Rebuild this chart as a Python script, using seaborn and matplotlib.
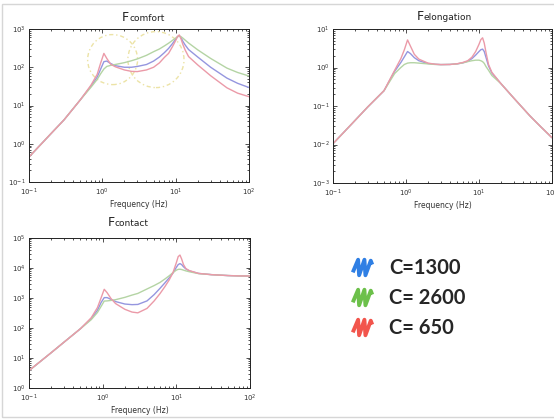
import pandas as pd
import seaborn as sns
import matplotlib.pyplot as plt
from matplotlib.patches import Ellipse, Rectangle
from matplotlib.lines import Line2D
from matplotlib.path import Path

sns.set_theme(style="ticks")
sns.set_style("ticks", {"xtick.direction": "in", "ytick.direction": "in",
                        "axes.edgecolor": "#222222"})
plt.rcParams["font.family"] = ["DejaVu Sans"]

# frequency grid (Hz)
freq = [0.1, 0.2, 0.3, 0.5, 0.7, 0.85, 0.95, 1.05, 1.15, 1.3, 1.5, 2, 2.5, 3, 4, 5,
        6, 7, 8, 9, 10, 10.6, 11.2, 11.8, 12.5, 13.5, 15, 20, 30, 50, 70, 100]

# damping values
c_labels = ["C=1300", "C= 2600", "C= 650"]

# F comfort
comfort_650 = [0.45, 1.85, 4.2, 14, 34, 65, 130, 230, 170, 120, 103, 85, 78, 77, 85, 100,
               130, 180, 230, 340, 500, 640, 700, 560, 400, 280, 190, 115, 60, 29, 21, 17]
comfort_1300 = [0.45, 1.85, 4.2, 14, 32, 55, 90, 140, 145, 125, 110, 100, 100, 105, 118, 145,
                185, 240, 310, 410, 540, 630, 670, 600, 480, 380, 290, 185, 100, 52, 38, 29.5]
comfort_2600 = [0.45, 1.85, 4.2, 14, 30, 48, 68, 90, 105, 112, 118, 132, 148, 165, 205, 255,
                300, 360, 425, 500, 580, 625, 650, 630, 580, 510, 430, 285, 170, 95, 73, 59]

# F elongation
elong_650 = [0.0105, 0.042, 0.095, 0.25, 0.85, 1.7, 2.9, 5.2, 3.6, 2.2, 1.65, 1.3, 1.22, 1.19,
             1.2, 1.25, 1.35, 1.5, 1.85, 2.6, 4.0, 5.3, 5.9, 4.3, 2.4, 1.2, 0.75, 0.38, 0.16,
             0.055, 0.029, 0.015]
elong_1300 = [0.0105, 0.042, 0.095, 0.25, 0.8, 1.35, 1.9, 2.6, 2.3, 1.8, 1.5, 1.27, 1.21, 1.19,
              1.2, 1.24, 1.32, 1.45, 1.7, 2.1, 2.6, 2.9, 3.0, 2.6, 1.8, 1.1, 0.72, 0.38, 0.16,
              0.055, 0.029, 0.015]
elong_2600 = [0.0105, 0.042, 0.095, 0.25, 0.7, 1.0, 1.2, 1.3, 1.33, 1.33, 1.3, 1.24, 1.2, 1.19,
              1.2, 1.24, 1.32, 1.42, 1.5, 1.55, 1.55, 1.5, 1.42, 1.28, 1.05, 0.85, 0.62, 0.38,
              0.16, 0.055, 0.029, 0.015]

# F contact
contact_650 = [3.8, 15, 34, 95, 220, 480, 1000, 1950, 1500, 950, 650, 420, 340, 320, 450, 800,
               1400, 2400, 4000, 7000, 15000, 24000, 27000, 20000, 13000, 9500, 8200, 6600,
               6000, 5600, 5450, 5400]
contact_1300 = [3.8, 15, 34, 95, 205, 390, 700, 1030, 1030, 900, 760, 630, 600, 610, 800, 1300,
                2100, 3200, 4700, 6800, 10500, 13000, 14000, 13000, 11000, 9300, 8000, 6600,
                6000, 5600, 5450, 5400]
contact_2600 = [3.8, 15, 34, 95, 190, 330, 520, 790, 800, 830, 880, 1050, 1250, 1420, 2000, 2600,
                3300, 4300, 5500, 7000, 8500, 9000, 9100, 8900, 8500, 8000, 7500, 6500, 6000,
                5600, 5450, 5400]

line_colors = {"C=1300": "#9596df", "C= 2600": "#b4d4a4", "C= 650": "#eb9aa8"}
scribble_colors = {"C=1300": "#2f7fe4", "C= 2600": "#6cc04a", "C= 650": "#f2554c"}


def long_form(v1300, v2600, v650):
    parts = []
    for lab, vals in zip(c_labels, [v1300, v2600, v650]):
        parts.append(pd.DataFrame({"freq": freq, "value": vals, "c": lab}))
    return pd.concat(parts, ignore_index=True)


# (name, data, y limits, axes box in px, title split offset px, title baseline px above axes)
panels = [
    ("comfort", long_form(comfort_1300, comfort_2600, comfort_650), (1e-1, 1e3),
     [29, 29, 249, 182], -10, 8),
    ("elongation", long_form(elong_1300, elong_2600, elong_650), (1e-3, 1e1),
     [333, 29, 552, 183], -19, 8.5),
    ("contact", long_form(contact_1300, contact_2600, contact_650), (1e0, 1e5),
     [29, 238, 250, 388], -25, 12.5),
]

W, H = 554, 420
fig = plt.figure(figsize=(W / 100, H / 100), dpi=100)

axes = []
for name, df, ylim, (x0, y0, x1, y1), split, rise in panels:
    ax = fig.add_axes([x0 / W, 1 - y1 / H, (x1 - x0) / W, (y1 - y0) / H])
    sns.lineplot(data=df, x="freq", y="value", hue="c", hue_order=c_labels,
                 palette=line_colors, estimator=None, linewidth=1.0, legend=False, ax=ax)
    ax.set(xscale="log", yscale="log", xlim=(1e-1, 1e2), ylim=ylim)
    # title: big "F" followed by the smaller name on the same baseline
    off = (split * 0.72, rise * 0.72)
    ax.annotate("F", xy=(0.5, 1), xycoords="axes fraction", xytext=off,
                textcoords="offset points", ha="right", va="baseline", fontsize=9,
                color="#222222")
    ax.annotate(name, xy=(0.5, 1), xycoords="axes fraction", xytext=off,
                textcoords="offset points", ha="left", va="baseline", fontsize=6.5,
                color="#222222")
    ax.set_xlabel("Frequency (Hz)", fontsize=5.5, labelpad=1.5, color="#333333")
    ax.set_ylabel("")
    ax.tick_params(which="both", top=True, right=True, labelsize=5,
                   colors="#333333", width=0.6)
    ax.tick_params(axis="x", pad=3.2)
    ax.tick_params(axis="y", pad=2.5)
    ax.tick_params(which="major", length=3)
    ax.tick_params(which="minor", length=1.5)
    for sp in ax.spines.values():
        sp.set_linewidth(0.7)
    axes.append(ax)

# dashed highlight circles on the comfort panel
for cx, cy, w, h in [(0.38, 0.80, 0.227, 0.327), (0.577, 0.80, 0.255, 0.366)]:
    axes[0].add_patch(Ellipse((cx, cy), w, h, transform=axes[0].transAxes, fill=False,
                              ec="#ece3a6", lw=1.0, ls=(0, (3, 2, 1, 2)), clip_on=False))

# hand-drawn style legend
zig = Path([(-1, -0.5), (-0.45, 0.8), (-0.35, -0.8), (0.2, 0.8), (0.3, -0.8),
            (0.85, 0.7), (1, 0.3)])
handles = [Line2D([], [], ls="none", marker=zig, markersize=14, markerfacecolor="none",
                  markeredgecolor=scribble_colors[lab], markeredgewidth=2.8)
           for lab in c_labels]
fig.legend(handles, c_labels, loc="upper left", bbox_to_anchor=(335 / W, 1 - 240 / H),
           frameon=False, labelspacing=0.5, handletextpad=0.9, handlelength=0.9,
           prop={"family": "Lato", "weight": "bold", "size": 14.5})

fig.add_artist(Rectangle((2 / W, 3 / H), 1.2, 1 - 7 / H, transform=fig.transFigure,
                         fill=False, ec="#d6d6d6", lw=1.0))

fig.savefig("out.png", dpi=100)
